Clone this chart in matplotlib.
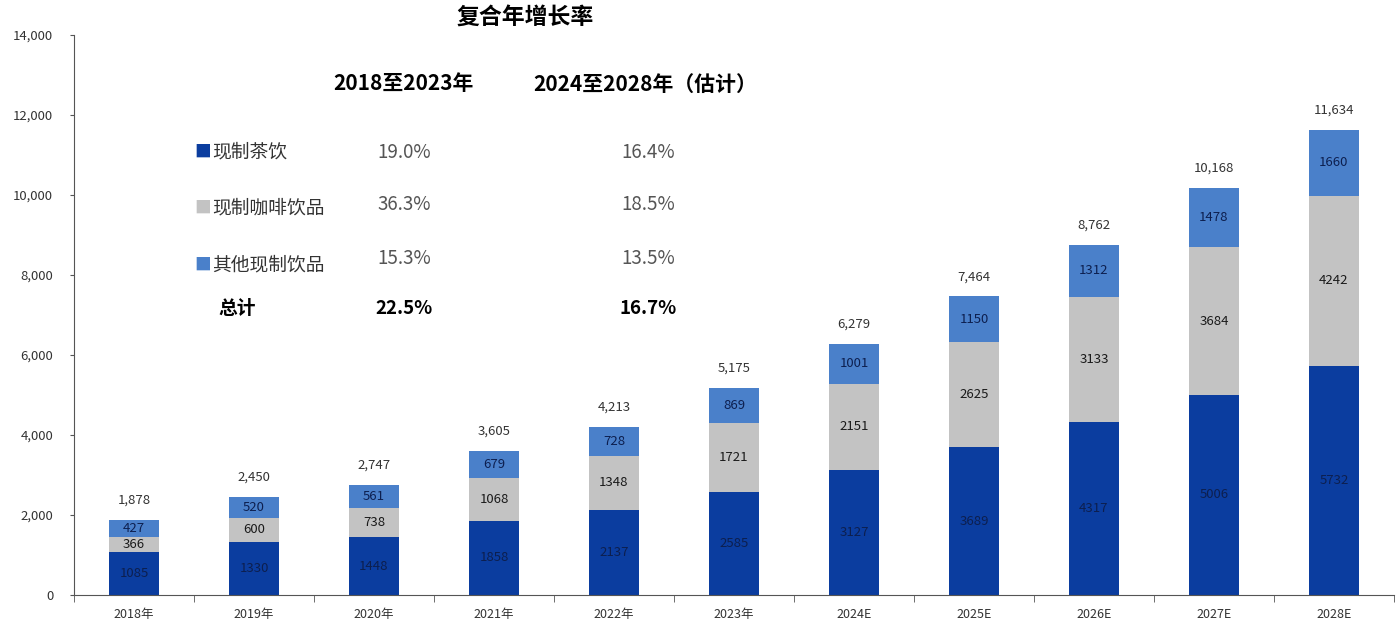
import matplotlib.pyplot as plt
import numpy as np

plt.rcParams['font.family'] = ['Noto Sans CJK SC', 'DejaVu Sans']

years = ['2018年', '2019年', '2020年', '2021年', '2022年', '2023年',
         '2024E', '2025E', '2026E', '2027E', '2028E']
tea = [1085, 1330, 1448, 1858, 2137, 2585, 3127, 3689, 4317, 5006, 5732]
coffee = [366, 600, 738, 1068, 1348, 1721, 2151, 2625, 3133, 3684, 4242]
other = [427, 520, 561, 679, 728, 869, 1001, 1150, 1312, 1478, 1660]
totals = [1878, 2450, 2747, 3605, 4213, 5175, 6279, 7464, 8762, 10168, 11634]

series_names = ['现制茶饮', '现制咖啡饮品', '其他现制饮品']
cagr_hist = ['19.0%', '36.3%', '15.3%', '22.5%']
cagr_fcst = ['16.4%', '18.5%', '13.5%', '16.7%']

colors = ['#0B3D9F', '#C3C3C3', '#4A80CA']

fig = plt.figure(figsize=(13.99, 6.27), dpi=100)
ax = fig.add_axes([0.0529, 0.051, 0.9435, 0.8931])

x = np.arange(len(years))
w = 0.41
ax.bar(x, tea, w, color=colors[0])
ax.bar(x, coffee, w, bottom=tea, color=colors[1])
bottom2 = np.array(tea) + np.array(coffee)
ax.bar(x, other, w, bottom=bottom2, color=colors[2])

for i in range(len(years)):
    ax.text(x[i], tea[i] / 2, str(tea[i]), ha='center', va='center', fontsize=9.5, color='#0d1f4f')
    ax.text(x[i], tea[i] + coffee[i] / 2, str(coffee[i]), ha='center', va='center', fontsize=9.5, color='#1a1a1a')
    ax.text(x[i], bottom2[i] + other[i] / 2, str(other[i]), ha='center', va='center', fontsize=9.5, color='#0d1f4f')
    ax.text(x[i], totals[i] + 330, f'{totals[i]:,}', ha='center', va='bottom', fontsize=9.5, color='#333333')

ax.set_xlim(-0.5, len(years) - 0.5)
ax.set_ylim(0, 14000)
ax.set_yticks(range(0, 14001, 2000))
ax.set_yticklabels([f'{v:,}' for v in range(0, 14001, 2000)], fontsize=9.5, color='#333333')
ax.set_xticks(x)
ax.set_xticklabels(years, fontsize=9, color='#333333')
ax.tick_params(axis='x', length=0, pad=9)
ax.set_xticks(np.arange(-0.5, len(years), 1), minor=True)
ax.tick_params(axis='x', which='minor', length=5, direction='out', color='#555555')
ax.tick_params(axis='y', length=3, pad=12, color='#555555')
ax.spines['top'].set_visible(False)
ax.spines['right'].set_visible(False)
ax.spines['left'].set_color('#555555')
ax.spines['bottom'].set_color('#555555')

# CAGR table
def fx(px):
    return px / 1399

def fy(py):
    return 1 - py / 627

fig.text(fx(525), fy(17), '复合年增长率', ha='center', va='center', fontsize=16.5, fontweight='bold')
fig.text(fx(403), fy(84), '2018至2023年', ha='center', va='center', fontsize=15, fontweight='bold')
fig.text(fx(645), fy(84), '2024至2028年（估计）', ha='center', va='center', fontsize=15, fontweight='bold')

rows_y = [152, 208, 265]
vals_y = [152, 205, 259]
for i, name in enumerate(series_names):
    fig.text(fx(194), fy(rows_y[i]), '■', ha='left', va='center', fontsize=12, color=colors[i])
    fig.text(fx(212), fy(rows_y[i]), name, ha='left', va='center', fontsize=13.5, color='#333333')
    fig.text(fx(404), fy(vals_y[i]), cagr_hist[i], ha='center', va='center', fontsize=13.5, color='#555555')
    fig.text(fx(648), fy(vals_y[i]), cagr_fcst[i], ha='center', va='center', fontsize=13.5, color='#555555')
fig.text(fx(237), fy(309), '总计', ha='center', va='center', fontsize=13.5, fontweight='bold')
fig.text(fx(404), fy(309), cagr_hist[3], ha='center', va='center', fontsize=13.5, fontweight='bold')
fig.text(fx(648), fy(309), cagr_fcst[3], ha='center', va='center', fontsize=13.5, fontweight='bold')

fig.savefig('out.png', dpi=100)
